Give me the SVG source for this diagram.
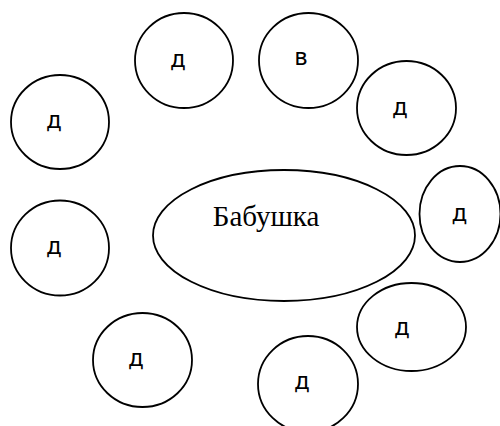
<svg xmlns="http://www.w3.org/2000/svg" width="500" height="426" viewBox="0 0 500 426">
<style>
.n{fill:#fff;stroke:#000;stroke-width:1.8}
.t{font-family:"DejaVu Sans",Verdana,sans-serif;font-size:23px;fill:#000;text-anchor:middle}
.c{font-family:"Liberation Serif","Times New Roman",serif;font-size:29px;fill:#000;text-anchor:middle}
</style>
<rect width="500" height="426" fill="#fff"/>
<g id="connectors"></g>
<g id="center"><ellipse class="n" cx="284" cy="235.5" rx="131" ry="65.5"/><text class="c" x="266" y="226">Бабушка</text></g>
<g id="n1"><ellipse class="n" cx="184" cy="60.5" rx="49" ry="47.5"/><text class="t" x="178" y="67">д</text></g>
<g id="n2"><ellipse class="n" cx="308.5" cy="60.5" rx="49.5" ry="47.5"/><text class="t" x="301" y="65">в</text></g>
<g id="n3"><ellipse class="n" cx="406.5" cy="108" rx="49.5" ry="47"/><text class="t" x="400" y="115">д</text></g>
<g id="n4"><ellipse class="n" cx="460" cy="214" rx="40.5" ry="48"/><text class="t" x="459.5" y="221">д</text></g>
<g id="n5"><ellipse class="n" cx="411.5" cy="327" rx="54.5" ry="44"/><text class="t" x="402" y="335">д</text></g>
<g id="n6"><ellipse class="n" cx="308" cy="384" rx="50" ry="48"/><text class="t" x="302" y="389">д</text></g>
<g id="n7"><ellipse class="n" cx="142.5" cy="360" rx="49.5" ry="47"/><text class="t" x="136" y="366">д</text></g>
<g id="n8"><ellipse class="n" cx="60" cy="248" rx="49" ry="47.5"/><text class="t" x="54" y="254">д</text></g>
<g id="n9"><ellipse class="n" cx="60" cy="122" rx="49" ry="47"/><text class="t" x="54" y="128">д</text></g>
</svg>
